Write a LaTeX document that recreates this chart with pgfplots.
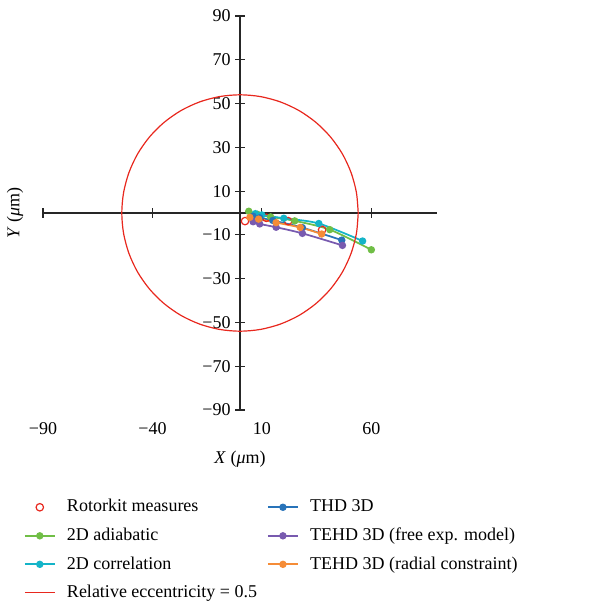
\documentclass[border=0pt]{standalone}
\usepackage{pgfplots}
\pgfplotsset{compat=1.18}
\usepackage{fontspec}
\setmainfont{Liberation Serif}
\definecolor{cred}{RGB}{232,40,30}
\definecolor{cgreen}{RGB}{112,190,70}
\definecolor{ccyan}{RGB}{20,180,200}
\definecolor{cblue}{RGB}{40,115,185}
\definecolor{cpurple}{RGB}{120,90,175}
\definecolor{corange}{RGB}{245,140,55}
\pgfplotsset{
  every axis/.append style={font=\fontsize{13.5}{16}\selectfont},
  /pgf/number format/assume math mode=true,
  ser/.style={color=#1, mark=*, mark size=2.1pt, line width=1.3pt, smooth, mark options={solid}},
  lineleg/.style={legend image code/.code={\draw[mark repeat=2,mark phase=2,##1] plot coordinates {(0pt,0pt) (11.25pt,0pt) (22.5pt,0pt)};}},
  markleg/.style={legend image code/.code={\path (0pt,0pt) (22.5pt,0pt); \draw[##1] plot coordinates {(11.25pt,0pt)};}},
}
\begin{document}
\begin{tikzpicture}
\useasboundingbox (-32.25pt,-148.5pt) rectangle (422.25pt,307.5pt);
\begin{axis}[
  scale only axis, width=295.5pt, height=295.5pt,
  xmin=-90, xmax=90, ymin=-90, ymax=90,
  axis lines=middle, axis line style={-, line width=0.9pt, black!85},
  tick align=center, major tick length=7pt, tick style={line width=0.9pt, black!85},
  xtick={-90,-40,10,60}, xticklabels={},
  ytick={-90,-70,-50,-30,-10,10,30,50,70,90},
  yticklabels={−90,−70,−50,−30,−10,10,30,50,70,90},
  ylabel={\textit{Y} (\textit{μ}m)},
  ylabel style={at={(axis description cs:-0.071,0.5)}, anchor=center, rotate=90},
  legend columns=4, transpose legend, lineleg,
  legend style={draw=none, fill=none, at={(axis description cs:0,0)}, anchor=north west,
    xshift=-14.5pt, yshift=-65.25pt, inner sep=0pt, row sep=6.4pt, column sep=7.5pt,
    nodes={text height=10pt, text depth=3pt, inner sep=1pt},
    /tikz/every even column/.append style={column sep=6.5pt},
    cells={anchor=west}},
]
\addplot[only marks, mark=o, mark size=2.8pt, color=cred, line width=0.9pt, markleg]
  coordinates {(2.3,-3.7) (5.8,-1.8) (12,-2.2) (22,-3.7) (37.5,-7.7)};
\addlegendentry{Rotorkit measures}
\addplot[ser=cgreen] coordinates {(4,0.8) (8,-0.6) (14,-1.8) (25,-3.6) (41,-7.6) (60,-16.8)};
\addlegendentry{2D adiabatic}
\addplot[ser=ccyan] coordinates {(7,-0.3) (10,-0.9) (20,-2.4) (36,-4.8) (56,-12.8)};
\addlegendentry{2D correlation}
\addplot[color=cred, line width=0.9pt, smooth] coordinates {
(54,0) (53.18,9.38) (50.74,18.47) (46.77,27) (41.37,34.71) (34.71,41.37) (27,46.77) (18.47,50.74) (9.38,53.18) (0,54) (-9.38,53.18) (-18.47,50.74) (-27,46.77) (-34.71,41.37) (-41.37,34.71) (-46.77,27) (-50.74,18.47) (-53.18,9.38) (-54,0) (-53.18,-9.38) (-50.74,-18.47) (-46.77,-27) (-41.37,-34.71) (-34.71,-41.37) (-27,-46.77) (-18.47,-50.74) (-9.38,-53.18) (0,-54) (9.38,-53.18) (18.47,-50.74) (27,-46.77) (34.71,-41.37) (41.37,-34.71) (46.77,-27) (50.74,-18.47) (53.18,-9.38) (54,0)};
\addlegendentry{Relative eccentricity = 0.5}
\addplot[ser=cblue] coordinates {(6,-1.5) (9,-2.2) (15,-3.4) (28.5,-6.7) (46.5,-12.4)};
\addlegendentry{THD 3D}
\addplot[ser=cpurple] coordinates {(6,-4) (9,-5) (16.5,-6.5) (28.5,-9.3) (46.8,-14.8)};
\addlegendentry{TEHD 3D (free exp. model)}
\addplot[ser=corange] coordinates {(4.5,-2) (8.5,-2.8) (16.5,-4.4) (27.5,-6.6) (37.3,-9.6)};
\addlegendentry{TEHD 3D (radial constraint)}
\end{axis}
\begin{axis}[
  scale only axis, width=295.5pt, height=295.5pt,
  xmin=-90, xmax=90, ymin=-90, ymax=90,
  axis x line*=bottom, axis y line=none, axis line style={draw=none},
  major tick length=0pt,
  xtick={-90,-40,10,60}, xticklabels={−90,−40,10,60},
  xticklabel style={yshift=-6pt},
  xlabel={\textit{X} (\textit{μ}m)},
  xlabel style={at={(axis description cs:0.5,0)}, anchor=center, yshift=-37pt},
]
\addplot[draw=none, forget plot] coordinates {(0,0)};
\end{axis}
\end{tikzpicture}
\end{document}
